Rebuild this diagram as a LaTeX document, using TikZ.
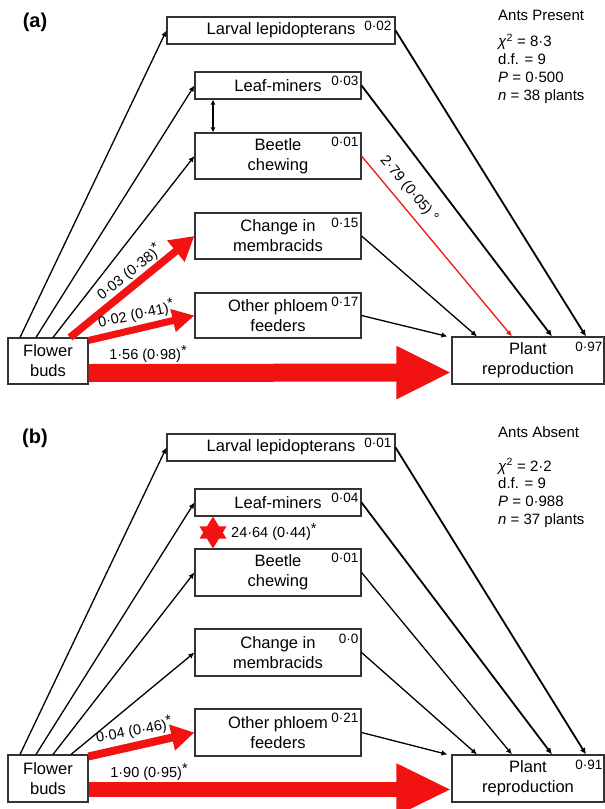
\documentclass[tikz,border=0pt]{standalone}
\usepackage{fontspec}
\setmainfont{Liberation Sans}
\usetikzlibrary{arrows.meta,calc}
\definecolor{myred}{RGB}{242,18,18}
\newcommand\sigstar{\raisebox{4pt}{*}}
\begin{document}
\begin{tikzpicture}[x=1pt,y=-1pt,
  box/.style={draw=black!80, line width=1.1pt, inner sep=0pt, align=center,
    font=\fontsize{16.5}{20}\selectfont},
  wbox/.style={box, minimum width=166pt, minimum height=46pt},
  num/.style={inner sep=0pt, anchor=north east, font=\fontsize{13.5}{15}\selectfont},
  lab/.style={inner sep=0pt, font=\fontsize{14.5}{16}\selectfont},
  stat/.style={inner sep=0pt, anchor=base west, font=\fontsize{15}{18}\selectfont},
  panel/.style={inner sep=0pt, font=\fontsize{20}{24}\selectfont\bfseries},
  arr/.style={line width=1.3pt, -{Latex[length=6pt,width=5.5pt]}},
  arrb/.style={line width=1.8pt, -{Latex[length=6.5pt,width=6pt]}},
  fat/.style={draw=myred, line width=#1},
]
\useasboundingbox (0,0) rectangle (605,809);

% ================= Panel (a) =================
\node[panel] (pa) at (35,22) {(a)};
\node[stat] (sa0) at (498,20.7) {Ants Present};
\node[stat] (sa1) at (498,46.7) {\textit{χ}\textsuperscript{2} = 8·3};
\node[stat] (sa2) at (498,64.5) {d.f. = 9};
\node[stat] (sa3) at (498,82.3) {\textit{P} = 0·500};
\node[stat] (sa4) at (498,100) {\textit{n} = 38 plants};

\node[box, minimum width=228pt, minimum height=27pt] (lA) at (281,30.5) {Larval lepidopterans};
\node[box, minimum width=166pt, minimum height=27pt] (mA) at (278,85.5) {Leaf-miners};
\node[wbox] (bA) at (278,156) {Beetle\\chewing};
\node[wbox] (cA) at (278,236) {Change in\\membracids};
\node[wbox, minimum height=45pt] (oA) at (278,315.5) {Other phloem\\feeders};
\node[box, minimum width=80pt, minimum height=46pt] (fA) at (48,361) {Flower\\buds};
\node[box, minimum width=152pt, minimum height=47pt] (pA) at (528,360.5) {Plant\\reproduction};

\node[num] (nlA) at ([xshift=-4pt,yshift=-4pt]lA.north east) {0·02};
\node[num] (nmA) at ([xshift=-3pt,yshift=-4pt]mA.north east) {0·03};
\node[num] (nbA) at ([xshift=-3pt,yshift=-4pt]bA.north east) {0·01};
\node[num] (ncA) at ([xshift=-3pt,yshift=-5pt]cA.north east) {0·15};
\node[num] (noA) at ([xshift=-3pt,yshift=-4pt]oA.north east) {0·17};
\node[num] (npA) at ([xshift=-2pt,yshift=-5pt]pA.north east) {0·97};

% flower buds -> herbivores
\draw[arr] ([xshift=-28pt]fA.north) -- (lA.west);
\draw[arr] ([xshift=-12pt]fA.north) -- (mA.west);
\draw[arr] ([xshift=5pt]fA.north) -- (bA.west);
\draw[fat=7.5pt, -{Triangle[length=24pt,width=26pt]}] ([xshift=22pt]fA.north) -- (cA.west);
\draw[fat=7pt, -{Triangle[length=22pt,width=22pt]}] ([yshift=-3pt]fA.north east) -- (oA.west);
\draw[fat=18pt, -{Triangle[length=55pt,width=49pt]}] ([yshift=-12pt]fA.east) -- ([yshift=-12pt]pA.west);
% herbivores -> plant
\draw[arrb] (lA.east) -- ([xshift=58pt]pA.north);
\draw[arrb] (mA.east) -- ([xshift=24pt]pA.north);
\draw[arr, myred] (bA.east) -- ([xshift=-16pt]pA.north);
\draw[arr] (cA.east) -- ([xshift=-51pt]pA.north);
\draw[arr] (oA.east) -- ([xshift=-4pt]pA.north west);
\draw[line width=1.3pt, {Latex[length=5pt,width=5pt]}-{Latex[length=5pt,width=5pt]}]
  ([xshift=-65pt]mA.south) -- ([xshift=-65pt]bA.north);

\node[lab, rotate=38] (tA1) at (129,272) {0·03 (0·38)\sigstar};
\node[lab, rotate=12] (tA2) at (136,314) {0·02 (0·41)\sigstar};
\node[lab] (tA3) at (148,354) {1·56 (0·98)\sigstar};
\node[lab, rotate=-50] (tA4) at (409,189) {2·79 (0·05) °};

% ================= Panel (b) =================
\node[panel] (pb) at (35,438) {(b)};
\node[stat] (sb0) at (498,437.7) {Ants Absent};
\node[stat] (sb1) at (498,471) {\textit{χ}\textsuperscript{2} = 2·2};
\node[stat] (sb2) at (498,488.5) {d.f. = 9};
\node[stat] (sb3) at (498,506) {\textit{P} = 0·988};
\node[stat] (sb4) at (498,524) {\textit{n} = 37 plants};

\node[box, minimum width=228pt, minimum height=27pt] (lB) at (281,447.5) {Larval lepidopterans};
\node[box, minimum width=166pt, minimum height=27pt] (mB) at (278,502.5) {Leaf-miners};
\node[wbox, minimum height=47pt] (bB) at (278,572.5) {Beetle\\chewing};
\node[wbox, minimum height=47pt] (cB) at (278,652.5) {Change in\\membracids};
\node[wbox, minimum height=47pt] (oB) at (278,732.5) {Other phloem\\feeders};
\node[box, minimum width=80pt, minimum height=47pt] (fB) at (48,778.5) {Flower\\buds};
\node[box, minimum width=152pt, minimum height=47pt] (pB) at (528,778.5) {Plant\\reproduction};

\node[num] (nlB) at ([xshift=-4pt,yshift=-4pt]lB.north east) {0·01};
\node[num] (nmB) at ([xshift=-3pt,yshift=-4pt]mB.north east) {0·04};
\node[num] (nbB) at ([xshift=-3pt,yshift=-4pt]bB.north east) {0·01};
\node[num] (ncB) at ([xshift=-3pt,yshift=-5pt]cB.north east) {0·0};
\node[num] (noB) at ([xshift=-3pt,yshift=-4pt]oB.north east) {0·21};
\node[num] (npB) at ([xshift=-2pt,yshift=-5pt]pB.north east) {0·91};

\draw[arr] ([xshift=-28pt]fB.north) -- (lB.west);
\draw[arr] ([xshift=-12pt]fB.north) -- (mB.west);
\draw[arr] ([xshift=5pt]fB.north) -- (bB.west);
\draw[arr] ([xshift=23pt]fB.north) -- (cB.west);
\draw[fat=8pt, -{Triangle[length=23pt,width=25pt]}] ([yshift=-2pt]fB.north east) -- (oB.west);
\draw[fat=15pt, -{Triangle[length=55pt,width=48pt]}] ([yshift=-11pt]fB.east) -- ([yshift=-11pt]pB.west);

\draw[arrb] (lB.east) -- ([xshift=58pt]pB.north);
\draw[arrb] (mB.east) -- ([xshift=24pt]pB.north);
\draw[arr] (bB.east) -- ([xshift=-16pt]pB.north);
\draw[arr] (cB.east) -- ([xshift=-51pt]pB.north);
\draw[arr] (oB.east) -- ([xshift=-4pt]pB.north west);
% double-headed fat arrow between leaf-miners and beetle chewing
\fill[myred] ([xshift=-65pt]mB.south) -- ++(13.5,22) -- ++(-27,0) -- cycle;
\fill[myred] ([xshift=-65pt]bB.north) -- ++(13.5,-22) -- ++(-27,0) -- cycle;

\node[lab, anchor=west] (tB0) at (231,532) {24·64 (0·44)\sigstar};
\node[lab, rotate=11] (tB1) at (134,730) {0·04 (0·46)\sigstar};
\node[lab] (tB2) at (149,772) {1·90 (0·95)\sigstar};
\end{tikzpicture}
\end{document}
